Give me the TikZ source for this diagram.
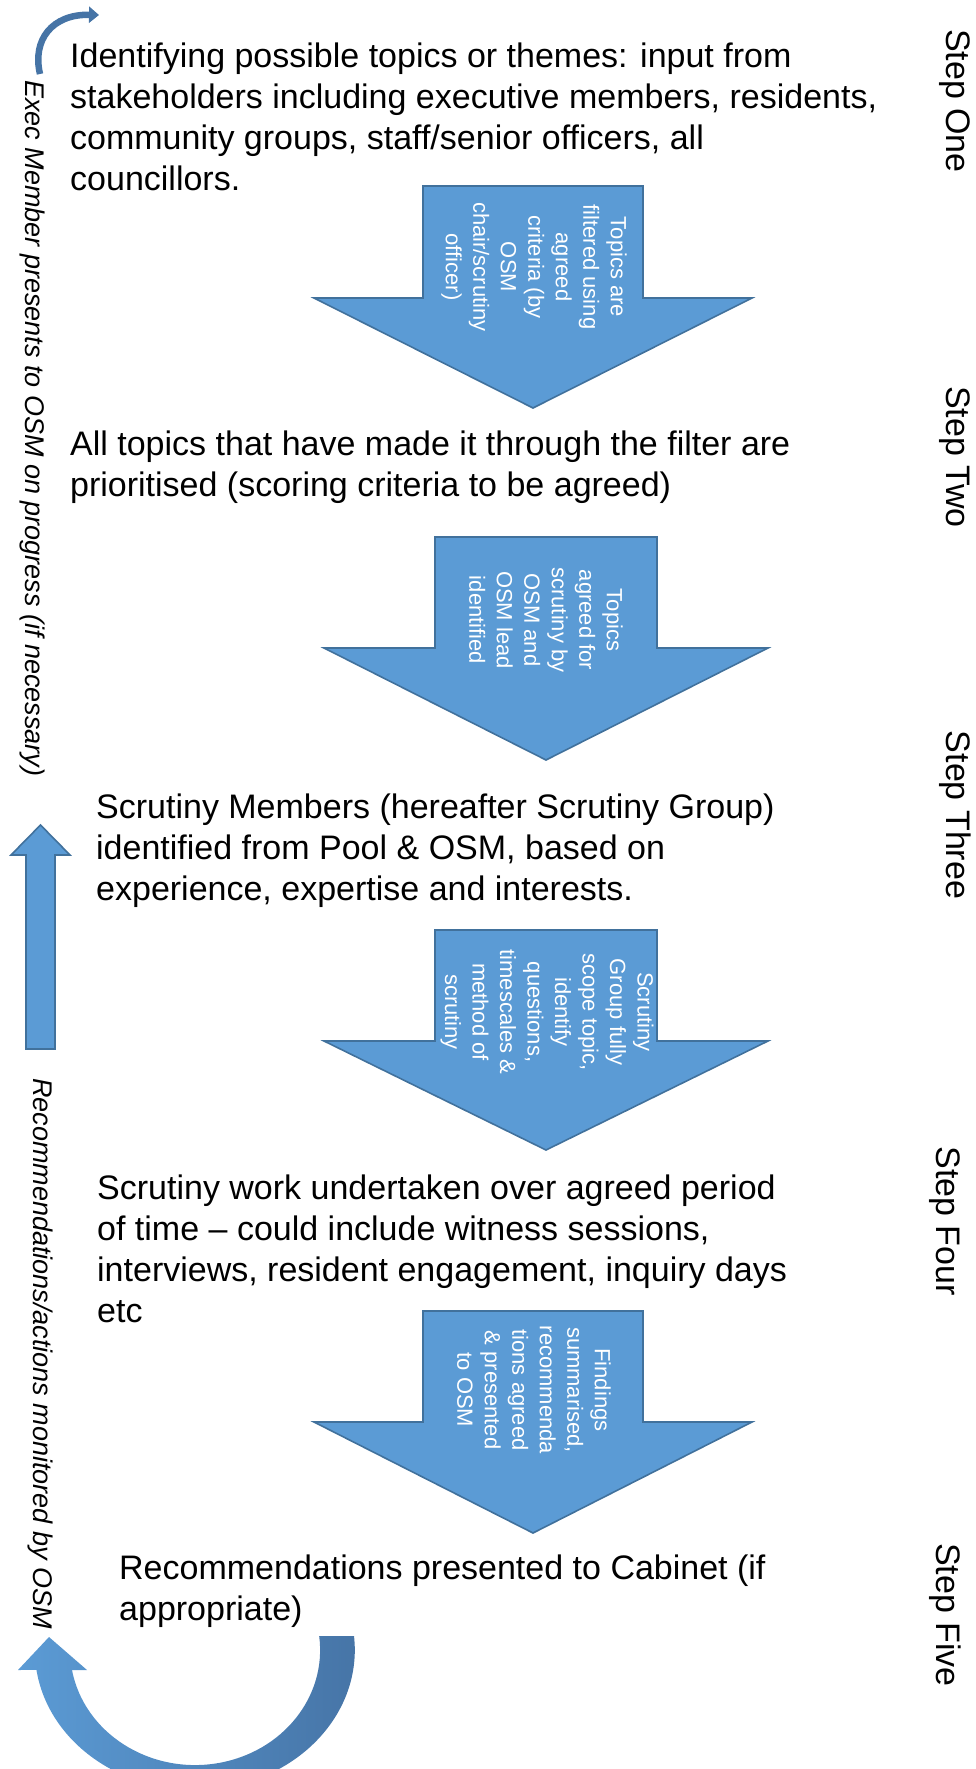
\documentclass[tikz,border=0pt]{standalone}
\usepackage{fontspec}
\setmainfont{Liberation Sans}
\usetikzlibrary{arrows.meta}
\definecolor{arrowfill}{HTML}{5B9BD5}
\definecolor{arrowedge}{HTML}{41719C}
\definecolor{loopdark}{HTML}{4674A6}

\begin{document}
\begin{tikzpicture}[x=1pt,y=-1pt,
  blockarrow/.style={fill=arrowfill, draw=arrowedge, line width=1.6pt, line join=miter},
  % multi-line nodes: the base anchor sits on the baseline of the last line
  bodytext/.style={font=\fontsize{34}{41}\selectfont, align=left, anchor=base west, inner sep=0pt, text=black},
  arrowtext/.style={font=\fontsize{22}{27.5}\selectfont, align=center, text=white, rotate=-90, inner sep=0pt},
  steplabel/.style={font=\fontsize{34}{40}\selectfont, rotate=-90, inner sep=0pt},
  sidetext/.style={font=\itshape\fontsize{27}{32}\selectfont, rotate=-90, anchor=base west, inner sep=0pt}
]
\useasboundingbox (0,0) rectangle (975,1769);

% block arrows between the stages
\path[blockarrow] (423,186) -- (643,186) -- (643,298) -- (752,298) -- (533,408) -- (314,298) -- (423,298) -- cycle;
\path[blockarrow] (435,537) -- (657,537) -- (657,648) -- (768,648) -- (546,760) -- (324,648) -- (435,648) -- cycle;
\path[blockarrow] (435,930) -- (657,930) -- (657,1041) -- (768,1041) -- (546,1150) -- (324,1041) -- (435,1041) -- cycle;
\path[blockarrow] (423,1311) -- (643,1311) -- (643,1422) -- (752,1422) -- (533,1533) -- (314,1422) -- (423,1422) -- cycle;

% upward arrow on the left
\path[blockarrow] (26,1049) -- (55,1049) -- (55,855) -- (70,855) -- (40.5,825) -- (11,855) -- (26,855) -- cycle;

% small curved arrow at the top left
\coordinate (loopstart) at (40,74);
\coordinate (loopend) at (99,15);
\draw[loopdark, line width=6.5pt, -{Triangle[length=10pt,width=16pt]}]
  (loopstart) .. controls (32,40) and (52,14) .. (loopend);

% large curved return arrow at the bottom
\shade[left color=arrowfill, right color=loopdark]
  (319,1636) -- (354,1636)
  arc[start angle=-5.7, end angle=171.8, x radius=160, y radius=140]
  -- (18,1670) -- (49,1637) -- (87,1670) -- (72,1670)
  arc[start angle=170, end angle=-7, x radius=125, y radius=115]
  -- cycle;

% stage descriptions
\node[bodytext] (t1) at (70,190) {Identifying possible topics or themes: input from\\stakeholders including executive members, residents,\\community groups, staff/senior officers, all\\councillors.};
\node[bodytext] (t2) at (70,496) {All topics that have made it through the filter are\\prioritised (scoring criteria to be agreed)};
\node[bodytext] (t3) at (96,900) {Scrutiny Members (hereafter Scrutiny Group)\\identified from Pool \& OSM, based on\\experience, expertise and interests.};
\node[bodytext] (t4) at (97,1322) {Scrutiny work undertaken over agreed period\\of time – could include witness sessions,\\interviews, resident engagement, inquiry days\\etc};
\node[bodytext] (t5) at (119,1620) {Recommendations presented to Cabinet (if\\appropriate)};

% texts inside the block arrows
\node[arrowtext] (a1) at (534,267) {Topics are\\filtered using\\agreed\\criteria (by\\OSM\\chair/scrutiny\\officer)};
\node[arrowtext] (a2) at (546,620) {Topics\\agreed for\\scrutiny by\\OSM and\\OSM lead\\identified};
\node[arrowtext] (a3) at (547,1012) {Scrutiny\\Group fully\\scope topic,\\identify\\questions,\\timescales \&\\method of\\scrutiny};
\node[arrowtext] (a4) at (534,1390) {Findings\\summarised,\\recommenda\\tions agreed\\\& presented\\to OSM};

% step labels
\node[steplabel] (s1) at (955,101) {Step One};
\node[steplabel] (s2) at (955,457) {Step Two};
\node[steplabel] (s3) at (955,815) {Step Three};
\node[steplabel] (s4) at (945,1221) {Step Four};
\node[steplabel] (s5) at (945,1615) {Step Five};

% side notes along the left edge
\node[sidetext] (side1) at (25,80) {Exec Member presents to OSM on progress (if necessary)};
\node[sidetext] (side2) at (33,1078) {Recommendations/actions monitored by OSM};
\end{tikzpicture}
\end{document}
